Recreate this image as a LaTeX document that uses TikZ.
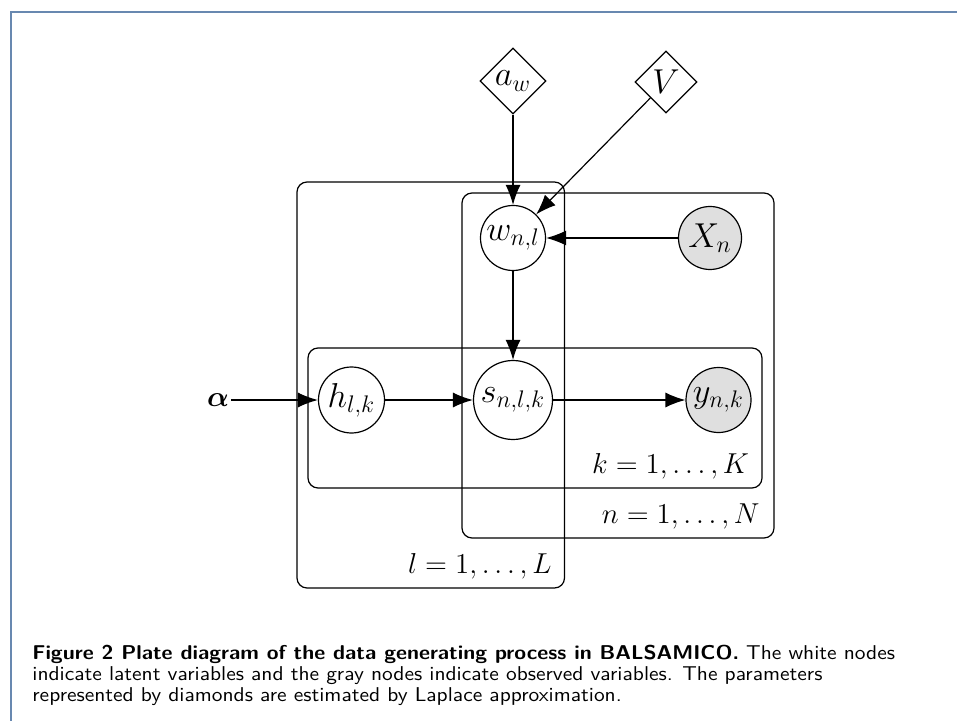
\documentclass[tikz,border=0pt]{standalone}
\usepackage{amsmath}
\usetikzlibrary{shapes.geometric,arrows.meta}
\definecolor{framecol}{RGB}{104,136,176}
\begin{document}
\begin{tikzpicture}[x=0.5pt,y=-0.5pt,
  font=\fontsize{14.4}{17}\selectfont,
  nodefont/.style={font=\fontsize{17.28}{20}\selectfont},
  latent/.style={circle,draw,line width=0.6pt,fill=white,inner sep=0pt,nodefont},
  obs/.style={circle,draw,line width=0.6pt,fill=gray!25,inner sep=0pt,nodefont},
  diam/.style={diamond,draw,line width=0.6pt,fill=white,inner sep=0pt,shape aspect=1,nodefont},
  plate/.style={rectangle,draw,line width=0.6pt,rounded corners=5pt,inner sep=0pt},
  arr/.style={-{Latex[length=10pt,width=7.5pt]},line width=0.6pt},
  captxt/.style={anchor=base west,inner sep=0pt,font=\sffamily\fontsize{10}{10.5}\selectfont}
]
\useasboundingbox (0,0) rectangle (957,721);
\draw[framecol,line width=1pt] (11,721) -- (11,12) -- (957,12);

% plates
\node[plate,minimum width=133.75pt,minimum height=203pt] (Lplate) at (430.75,385) {};
\node[plate,minimum width=156pt,minimum height=172.5pt] (Nplate) at (618,365.5) {};
\node[plate,minimum width=227pt,minimum height=70pt] (Kplate) at (535,418) {};
\node[anchor=base east,inner sep=0pt] (Llab) at (552,573) {$l = 1, \ldots, L$};
\node[anchor=base east,inner sep=0pt] (Nlab) at (760,523) {$n = 1, \ldots, N$};
\node[anchor=base east,inner sep=0pt] (Klab) at (749.5,473) {$k = 1, \ldots, K$};

% nodes
\node[diam,minimum size=33pt] (aw) at (513,81) {$a_w$};
\node[diam,minimum size=31pt] (V) at (666,82) {$V$};
\node[latent,minimum size=32.5pt] (w) at (513,238) {$w_{n,l}$};
\node[obs,minimum size=31.5pt] (X) at (710,238) {$X_n$};
\node[latent,minimum size=33pt] (h) at (351.5,400) {$h_{l,k}$};
\node[latent,minimum size=39.5pt] (s) at (513,400) {$s_{n,l,k}$};
\node[obs,minimum size=32.5pt] (y) at (718.5,400) {$y_{n,k}$};
\node[inner sep=1pt] (alpha) at (218,400) {$\boldsymbol{\alpha}$};

% edges
\draw[arr] (aw) -- (w);
\draw[arr] (V) -- (w);
\draw[arr] (X) -- (w);
\draw[arr] (w) -- (s);
\draw[arr] (alpha) -- (h);
\draw[arr] (h) -- (s);
\draw[arr] (s) -- (y);

% caption
\node[captxt] (cap1) at (32,659) {\scalebox{1.072}[1]{\textbf{Figure 2 Plate diagram of the data generating process in BALSAMICO.} The white nodes}};
\node[captxt] (cap2) at (32,680) {\scalebox{1.072}[1]{indicate latent variables and the gray nodes indicate observed variables. The parameters}};
\node[captxt] (cap3) at (32,701) {\scalebox{1.072}[1]{represented by diamonds are estimated by Laplace approximation.}};
\end{tikzpicture}
\end{document}
